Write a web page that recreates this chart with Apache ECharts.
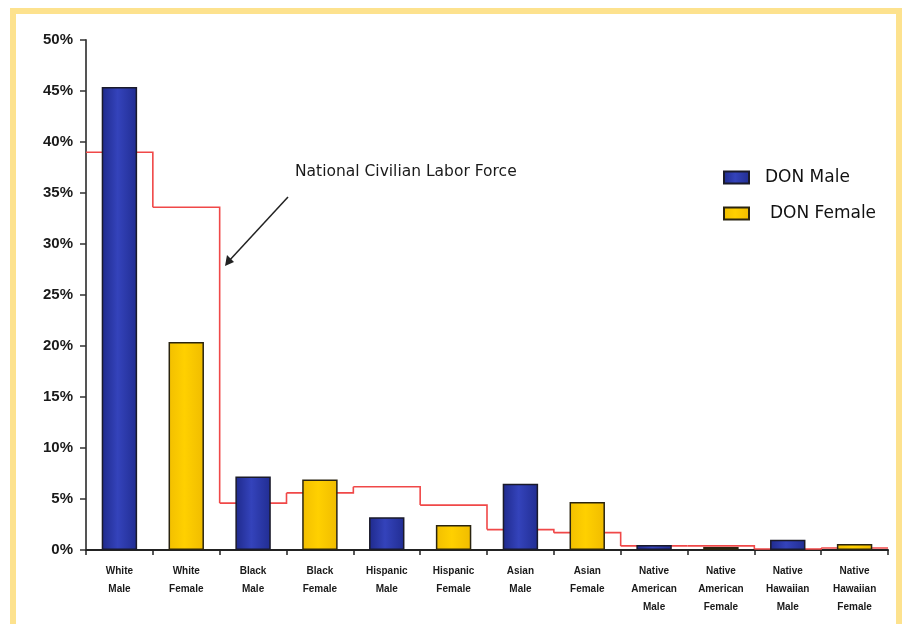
<!DOCTYPE html>
<html>
<head>
<meta charset="utf-8">
<script src="https://cdn.jsdelivr.net/npm/echarts@6/dist/echarts.min.js"></script>
<style>
  html, body { margin: 0; padding: 0; background: #ffffff; }
  #chart { width: 905px; height: 624px; }
</style>
</head>
<body>
<div id="chart"></div>
<script>
// Workforce composition by group, compared against the national civilian labor force
const categories = [
  'White\nMale', 'White\nFemale', 'Black\nMale', 'Black\nFemale',
  'Hispanic\nMale', 'Hispanic\nFemale', 'Asian\nMale', 'Asian\nFemale',
  'Native\nAmerican\nMale', 'Native\nAmerican\nFemale',
  'Native\nHawaiian\nMale', 'Native\nHawaiian\nFemale'
];
// DON share (%) — male groups and female groups ('-' = not applicable)
const donMale   = [45.4, '-', 7.2, '-', 3.2, '-', 6.5, '-', 0.5, '-', 1.0, '-'];
const donFemale = ['-', 20.4, '-', 6.9, '-', 2.45, '-', 4.7, '-', 0.3, '-', 0.6];
// National civilian labor force share (%)
const laborForce = [39.0, 33.6, 4.6, 5.6, 6.2, 4.4, 2.0, 1.7, 0.4, 0.4, 0.1, 0.2];
const yTicks = [0, 5, 10, 15, 20, 25, 30, 35, 40, 45, 50];

const chart = echarts.init(document.getElementById('chart'));

const blueFill = new echarts.graphic.LinearGradient(0, 0, 1, 0, [
  { offset: 0, color: '#1f2a8c' },
  { offset: 0.45, color: '#3443bb' },
  { offset: 1, color: '#212d92' }
]);
const goldFill = new echarts.graphic.LinearGradient(0, 0, 1, 0, [
  { offset: 0, color: '#f2bf00' },
  { offset: 0.45, color: '#ffd000' },
  { offset: 1, color: '#f0bc00' }
]);

// Step outline of the labor-force share, one flat run per category band
const stepData = laborForce.map((v, i) => [i, v, i + 1 < laborForce.length ? laborForce[i + 1] : v]);

function renderStep(params, api) {
  const i = api.value(0);
  const p = api.coord([i, api.value(1)]);
  const pn = api.coord([i, api.value(2)]);
  const w = api.size([1, 0])[0];
  const x0 = p[0] - w / 2, x1 = p[0] + w / 2;
  const pts = [[x0, p[1]], [x1, p[1]]];
  if (i + 1 < laborForce.length) pts.push([x1, pn[1]]);
  return {
    type: 'polyline',
    shape: { points: pts },
    style: { stroke: '#f04848', lineWidth: 1.6, fill: null }
  };
}

const legendFont = { fontFamily: 'DejaVu Sans, sans-serif', fontSize: 17, color: '#111' };

const option = {
  backgroundColor: '#ffffff',
  animation: false,
  grid: { left: 86, right: 17, top: 40, bottom: 74, containLabel: false },
  legend: {
    orient: 'vertical',
    left: 718,
    top: 164,
    icon: 'rect',
    itemWidth: 25,
    itemHeight: 12,
    itemGap: 19,
    textStyle: legendFont,
    data: [
      { name: 'DON Male', textStyle: Object.assign({ padding: [0, 0, 0, 11] }, legendFont) },
      { name: 'DON Female', textStyle: Object.assign({ padding: [0, 0, 0, 16] }, legendFont) }
    ]
  },
  xAxis: {
    type: 'category',
    data: categories,
    axisLine: { lineStyle: { color: '#222', width: 2 } },
    axisTick: { show: true, length: 5, lineStyle: { color: '#222', width: 1.5 } },
    axisLabel: {
      interval: 0,
      margin: 12,
      fontFamily: 'Liberation Sans, Arial, sans-serif',
      fontWeight: 'bold',
      fontSize: 10,
      lineHeight: 18,
      color: '#1a1a1a'
    },
    splitLine: { show: false }
  },
  yAxis: {
    type: 'value',
    min: yTicks[0],
    max: yTicks[yTicks.length - 1],
    interval: 5,
    axisLine: { show: true, lineStyle: { color: '#555', width: 2 } },
    axisTick: { show: true, length: 6, lineStyle: { color: '#333', width: 1.5 } },
    axisLabel: {
      formatter: '{value}%',
      margin: 13,
      fontFamily: 'Liberation Sans Narrow, Arial Narrow, Liberation Sans, sans-serif',
      fontWeight: 'bold',
      fontSize: 15,
      color: '#1a1a1a'
    },
    splitLine: { show: false }
  },
  series: [
    {
      name: 'DON Male',
      type: 'bar',
      data: donMale,
      barWidth: '53%',
      barGap: '-100%',
      itemStyle: { color: blueFill, borderColor: '#1a1a2a', borderWidth: 1.5 },
      z: 3
    },
    {
      name: 'DON Female',
      type: 'bar',
      data: donFemale,
      barWidth: '53%',
      itemStyle: { color: goldFill, borderColor: '#2a2410', borderWidth: 1.5 },
      z: 3
    },
    {
      name: 'National Civilian Labor Force',
      type: 'custom',
      renderItem: renderStep,
      data: stepData,
      encode: { x: 0, y: 1 },
      z: 2,
      silent: true
    }
  ],
  graphic: [
    {
      type: 'rect',
      shape: { x: 13, y: 11, width: 886, height: 620 },
      style: { fill: null, stroke: '#fde28e', lineWidth: 6 },
      z: 10
    },
    {
      type: 'text',
      left: 295,
      top: 164,
      style: {
        text: 'National Civilian Labor Force',
        fontFamily: 'DejaVu Sans, sans-serif',
        fontSize: 15.5,
        fill: '#1a1a1a'
      }
    },
    {
      type: 'line',
      shape: { x1: 288, y1: 197, x2: 228, y2: 262 },
      style: { stroke: '#222', lineWidth: 1.5 }
    },
    {
      type: 'polygon',
      shape: { points: [[225, 266], [227, 255], [234, 262]] },
      style: { fill: '#222' }
    }
  ]
};

chart.setOption(option);
</script>
</body>
</html>
